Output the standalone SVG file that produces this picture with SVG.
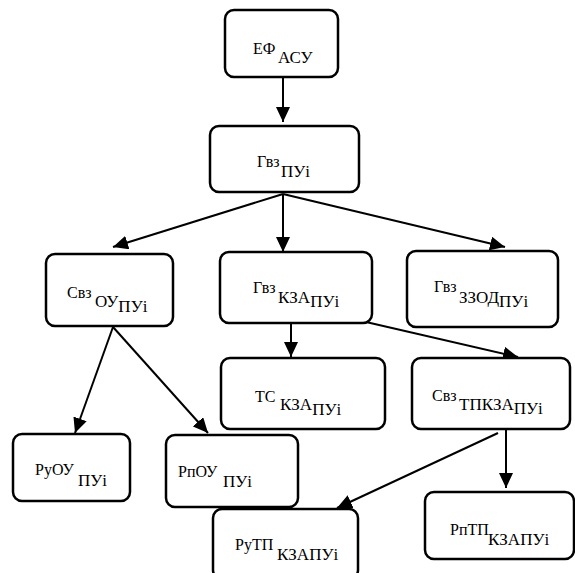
<svg xmlns="http://www.w3.org/2000/svg" width="575" height="573" viewBox="0 0 575 573">
<style>
.box{fill:#fff;stroke:#000;stroke-width:2.5}
text{font-family:"Liberation Serif","Times New Roman","DejaVu Serif",serif;font-size:16px;fill:#000}
.s{font-size:17px}
.c{stroke:#000;stroke-width:2;fill:none;marker-end:url(#ah)}
</style>
<defs>
<marker id="ah" markerUnits="userSpaceOnUse" markerWidth="16" markerHeight="14" refX="15" refY="7" orient="auto" viewBox="0 0 16 14">
<path d="M0,0 L15,7 L0,14 z" fill="#000"/>
</marker>
</defs>
<rect width="575" height="573" fill="#fff"/>
<g id="connectors">
<line class="c" x1="283" y1="77" x2="283" y2="122"/>
<line class="c" x1="283" y1="194" x2="113" y2="247"/>
<line class="c" x1="283" y1="194" x2="283" y2="252"/>
<line class="c" x1="283" y1="194" x2="505" y2="247"/>
<line class="c" x1="113" y1="327" x2="75" y2="433"/>
<line class="c" x1="113" y1="327" x2="208" y2="433"/>
<line class="c" x1="291" y1="323" x2="291" y2="357"/>
<line class="c" x1="366" y1="322" x2="518" y2="357"/>
<line class="c" x1="506" y1="429" x2="506" y2="488"/>
<line class="c" x1="498" y1="433" x2="337" y2="508"/>
</g>
<g id="n-efasu">
<rect class="box" x="225" y="10" width="113" height="67" rx="9"/>
<text x="253" y="54">ЕФ<tspan class="s" x="278" y="63">АСУ</tspan></text>
</g>
<g id="n-gvz-pui">
<rect class="box" x="210" y="126" width="149" height="66" rx="9"/>
<text x="257" y="167">Гвз<tspan class="s" x="281" y="177">ПУі</tspan></text>
</g>
<g id="n-svz-ou">
<rect class="box" x="46" y="254" width="127" height="72" rx="9"/>
<text x="67" y="298">Свз<tspan class="s" x="95" y="307">ОУ</tspan><tspan class="s" y="312">ПУі</tspan></text>
</g>
<g id="n-gvz-kza">
<rect class="box" x="220" y="252" width="152" height="71" rx="9"/>
<text x="253" y="293">Гвз<tspan class="s" x="278" y="303">КЗА</tspan><tspan class="s" y="307">ПУі</tspan></text>
</g>
<g id="n-gvz-zzod">
<rect class="box" x="407" y="251" width="151" height="76" rx="9"/>
<text x="434" y="292">Гвз<tspan class="s" x="459" y="303">ЗЗОД</tspan><tspan class="s" y="307">ПУі</tspan></text>
</g>
<g id="n-ts-kza">
<rect class="box" x="221" y="358" width="164" height="71" rx="9"/>
<text x="255" y="402">ТС<tspan class="s" x="280" y="410">КЗА</tspan><tspan class="s" y="415">ПУі</tspan></text>
</g>
<g id="n-svz-tpkza">
<rect class="box" x="412" y="358" width="158" height="71" rx="9"/>
<text x="432" y="401">Свз<tspan class="s" x="459" y="410">ТПКЗА</tspan><tspan class="s" y="414">ПУі</tspan></text>
</g>
<g id="n-ruou">
<rect class="box" x="13" y="434" width="117" height="67" rx="9"/>
<text x="35" y="475">РуОУ<tspan class="s" x="78" y="486">ПУі</tspan></text>
</g>
<g id="n-rpou">
<rect class="box" x="166" y="435" width="132" height="72" rx="9"/>
<text x="178" y="477">РпОУ<tspan class="s" x="223" y="487">ПУі</tspan></text>
</g>
<g id="n-rutp">
<rect class="box" x="213" y="509" width="145" height="70" rx="9"/>
<text x="235" y="550">РуТП<tspan class="s" x="277" y="560">КЗАПУі</tspan></text>
</g>
<g id="n-rptp">
<rect class="box" x="425" y="492" width="149" height="67" rx="9"/>
<text x="450" y="535">РпТП<tspan class="s" x="488" y="545">КЗАПУі</tspan></text>
</g>
</svg>
